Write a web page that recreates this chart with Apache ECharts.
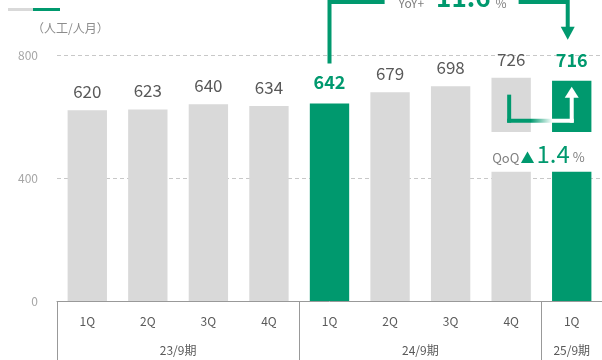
<!DOCTYPE html>
<html>
<head>
<meta charset="utf-8">
<script src="https://cdn.jsdelivr.net/npm/echarts@6/dist/echarts.min.js"></script>
<style>
  html, body { margin: 0; padding: 0; background: #fff; }
  #main { width: 602px; height: 360px; }
</style>
</head>
<body>
<div id="main"></div>
<script>
var categories = ['1Q', '2Q', '3Q', '4Q', '1Q', '2Q', '3Q', '4Q', '1Q'];
var values = [620, 623, 640, 634, 642, 679, 698, 726, 716];
var highlighted = [4, 8];
var periods = ['23/9期', '24/9期', '25/9期'];
var periodSizes = [4, 4, 1];
var yTicks = [0, 400, 800];
var unitLabel = '（人工/人月）';
var yoyText = '11.6';
var qoqText = '1.4';

var GREEN = '#00996e';
var GRAY = '#d9d9d9';
var FONT = "'Noto Sans CJK JP', 'Noto Sans', sans-serif";

// group boundaries / centres on a 0..9 value axis
var bounds = [0], centres = [];
periodSizes.forEach(function (n, i) {
    centres.push(bounds[i] + n / 2);
    bounds.push(bounds[i] + n);
});

var chart = echarts.init(document.getElementById('main'));

var option = {
    animation: false,
    textStyle: { fontFamily: FONT },
    grid: { left: 57, top: 55, width: 551, height: 246 },
    xAxis: [
        {
            type: 'category',
            data: categories,
            axisLine: { lineStyle: { color: '#999', width: 1 } },
            axisTick: { show: false },
            axisLabel: { color: '#595959', fontSize: 12, margin: 14 }
        },
        {
            type: 'value',
            min: 0,
            max: bounds[bounds.length - 1],
            position: 'bottom',
            axisLine: { show: false },
            splitLine: { show: false },
            axisTick: {
                show: true,
                customValues: bounds.slice(0, bounds.length - 1),
                length: 60,
                lineStyle: { color: '#999', width: 1 }
            },
            axisLabel: {
                customValues: centres,
                color: '#595959',
                fontSize: 12,
                margin: 43,
                formatter: function (v) {
                    return periods[centres.indexOf(v)];
                }
            }
        }
    ],
    yAxis: {
        type: 'value',
        min: yTicks[0],
        max: yTicks[yTicks.length - 1],
        interval: yTicks[1] - yTicks[0],
        axisLine: { show: false },
        axisTick: { show: false },
        axisLabel: { color: '#a6a6a6', fontSize: 12, margin: 19 },
        splitLine: { lineStyle: { color: '#c8c8c8', type: [4, 3] } }
    },
    series: [{
        type: 'bar',
        xAxisIndex: 0,
        barWidth: '65%',
        data: values.map(function (v, i) {
            var hi = highlighted.indexOf(i) >= 0;
            return {
                value: v,
                itemStyle: { color: hi ? GREEN : GRAY },
                label: hi ? { color: GREEN, fontWeight: 'bold', fontSize: 18, distance: 12 } : {}
            };
        }),
        label: {
            show: true,
            position: 'top',
            distance: 10,
            color: '#595959',
            fontSize: 17
        }
    }]
};
chart.setOption(option);

function px(i, v) {
    return chart.convertToPixel({ xAxisIndex: 0, yAxisIndex: 0 }, [i, v]);
}

var x4 = px(4, 0)[0], x7 = px(7, 0)[0], x8 = px(8, 0)[0];
var top4 = px(4, values[4])[1], top8 = px(8, values[8])[1];
var bandTop = px(7, 550)[1], bandBot = px(7, 420)[1];
var arrowY = px(7, 580)[1];
var mid = (x4 + x8) / 2;
var lineY = 2;

chart.setOption({
    graphic: [
        // legend stub
        { type: 'rect', shape: { x: 8, y: 8, width: 25, height: 3 }, style: { fill: GRAY } },
        { type: 'rect', shape: { x: 33, y: 8, width: 27, height: 3 }, style: { fill: GREEN } },
        {
            type: 'text', x: 32, y: 28,
            style: { text: unitLabel, fill: '#8c8c8c', font: '12px ' + FONT, verticalAlign: 'middle' }
        },
        // white break through the last two bars
        {
            type: 'rect', z: 50,
            shape: { x: x7 - 31, y: bandTop, width: 602 - (x7 - 31), height: bandBot - bandTop },
            style: { fill: '#fff' }
        },
        // QoQ arrow
        {
            type: 'rect', z: 60,
            shape: { x: x7 - 4, y: arrowY - 28, width: 4, height: 28 },
            style: { fill: GREEN }
        },
        {
            type: 'rect', z: 60,
            shape: { x: x7 - 4, y: arrowY - 4, width: x8 - x7 + 6, height: 4 },
            style: {
                fill: {
                    type: 'linear', x: 0, y: 0, x2: 1, y2: 0,
                    colorStops: [
                        { offset: 0, color: GREEN },
                        { offset: 0.35, color: GREEN },
                        { offset: 0.68, color: '#ffffff' },
                        { offset: 1, color: '#ffffff' }
                    ]
                }
            }
        },
        {
            type: 'rect', z: 60,
            shape: { x: x8 - 2, y: arrowY - 26, width: 4, height: 26 },
            style: { fill: '#fff' }
        },
        {
            type: 'polygon', z: 60,
            shape: { points: [[x8, arrowY - 36], [x8 - 7, arrowY - 25], [x8 + 7, arrowY - 25]] },
            style: { fill: '#fff' }
        },
        {
            type: 'text', z: 60, x: (x7 + x8) / 2 - 3, y: bandBot - 6,
            style: {
                text: '{a|QoQ}{b|▲}{c|' + qoqText + '}{d|%}',
                align: 'center',
                verticalAlign: 'bottom',
                rich: {
                    a: { fontSize: 13, fill: '#7f7f7f', fontFamily: FONT, verticalAlign: 'bottom', padding: [0, 1, 1, 0] },
                    b: { fontSize: 14, fill: GREEN, fontFamily: FONT, verticalAlign: 'bottom', padding: [0, 0, 1, 0] },
                    c: { fontSize: 24, fill: GREEN, fontFamily: FONT, verticalAlign: 'bottom', padding: [0, 3, 0, 2] },
                    d: { fontSize: 13, fill: '#7f7f7f', fontFamily: FONT, verticalAlign: 'bottom', padding: [0, 0, 2, 0] }
                }
            }
        },
        // YoY bracket
        {
            type: 'polyline', z: 60,
            shape: { points: [[x4, top4 - 40], [x4, lineY], [mid - 66, lineY]] },
            style: { stroke: GREEN, lineWidth: 4, fill: null }
        },
        {
            type: 'polyline', z: 60,
            shape: { points: [[mid + 68, lineY], [x8 - 4, lineY], [x8 - 4, top8 - 53]] },
            style: { stroke: GREEN, lineWidth: 4, fill: null }
        },
        {
            type: 'polygon', z: 60,
            shape: { points: [[x8 - 11, top8 - 54], [x8 + 3, top8 - 54], [x8 - 4, top8 - 41]] },
            style: { fill: GREEN }
        },
        {
            type: 'text', z: 60, x: mid + 2, y: 10,
            style: {
                text: '{a|YoY+}{c|' + yoyText + '}{d|%}',
                align: 'center',
                verticalAlign: 'bottom',
                rich: {
                    a: { fontSize: 12, fill: '#7f7f7f', fontFamily: FONT, verticalAlign: 'bottom', padding: [0, 12, 1, 0] },
                    c: { fontSize: 26, fill: GREEN, fontFamily: FONT, fontWeight: 'bold', verticalAlign: 'bottom' },
                    d: { fontSize: 12, fill: '#7f7f7f', fontFamily: FONT, verticalAlign: 'bottom', padding: [0, 0, 1, 5] }
                }
            }
        }
    ]
});
</script>
</body>
</html>
